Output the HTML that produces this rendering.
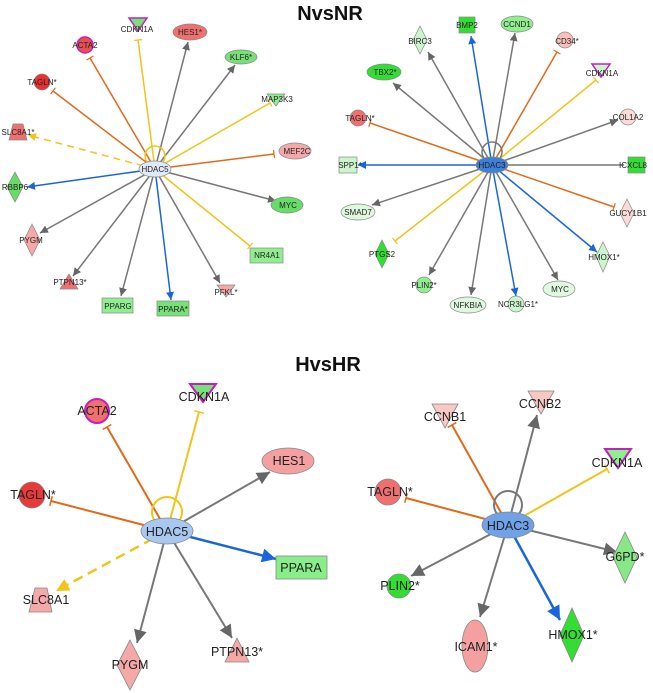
<!DOCTYPE html>
<html><head><meta charset="utf-8"><style>
html,body{margin:0;padding:0;background:#fff}
svg{display:block}
text{font-family:"Liberation Sans",sans-serif;fill:#222}
.s{font-size:8px}.b{font-size:12.5px}
.t{font-weight:bold;font-size:20px;fill:#111}
</style></head><body>
<svg width="653" height="693" viewBox="0 0 653 693" xmlns="http://www.w3.org/2000/svg">
<defs>
<marker id="ag" viewBox="0 0 10 10" refX="10" refY="5" markerWidth="8" markerHeight="8" markerUnits="userSpaceOnUse" orient="auto"><path d="M0,0L10,5L0,10z" fill="#666"/></marker>
<marker id="ab" viewBox="0 0 10 10" refX="10" refY="5" markerWidth="8" markerHeight="8" markerUnits="userSpaceOnUse" orient="auto"><path d="M0,0L10,5L0,10z" fill="#1a66d9"/></marker>
<marker id="ay" viewBox="0 0 10 10" refX="10" refY="5" markerWidth="8" markerHeight="8" markerUnits="userSpaceOnUse" orient="auto"><path d="M0,0L10,5L0,10z" fill="#f0c419"/></marker>
<marker id="ag2" viewBox="0 0 10 10" refX="10" refY="5" markerWidth="13" markerHeight="13" markerUnits="userSpaceOnUse" orient="auto"><path d="M0,0L10,5L0,10z" fill="#666"/></marker>
<marker id="ab2" viewBox="0 0 10 10" refX="10" refY="5" markerWidth="14" markerHeight="14" markerUnits="userSpaceOnUse" orient="auto"><path d="M0,0L10,5L0,10z" fill="#1a66d9"/></marker>
<marker id="ay2" viewBox="0 0 10 10" refX="10" refY="5" markerWidth="13" markerHeight="13" markerUnits="userSpaceOnUse" orient="auto"><path d="M0,0L10,5L0,10z" fill="#f0c419"/></marker>
<marker id="to" viewBox="0 0 4 10" refX="2" refY="5" markerWidth="4" markerHeight="8" markerUnits="userSpaceOnUse" orient="auto"><path d="M2,0V10" stroke="#e06a1a" stroke-width="1.5"/></marker>
<marker id="ty" viewBox="0 0 4 10" refX="2" refY="5" markerWidth="4" markerHeight="8" markerUnits="userSpaceOnUse" orient="auto"><path d="M2,0V10" stroke="#f0c419" stroke-width="1.5"/></marker>
<marker id="to2" viewBox="0 0 4 10" refX="2" refY="5" markerWidth="4" markerHeight="10" markerUnits="userSpaceOnUse" orient="auto"><path d="M2,0V10" stroke="#e06a1a" stroke-width="1.5"/></marker>
<marker id="ty2" viewBox="0 0 4 10" refX="2" refY="5" markerWidth="4" markerHeight="10" markerUnits="userSpaceOnUse" orient="auto"><path d="M2,0V10" stroke="#f0c419" stroke-width="1.5"/></marker>
</defs>

<text class="t" x="330" y="20" text-anchor="middle">NvsNR</text>
<text class="t" x="328" y="371" text-anchor="middle">HvsHR</text>

<!-- ===== Top-left HDAC5 ===== -->
<g stroke-width="1.5" fill="none">
<line x1="155" y1="169" x2="138" y2="40" stroke="#f0c419" marker-end="url(#ty)"/>
<line x1="155" y1="169" x2="90" y2="58" stroke="#e06a1a" marker-end="url(#to)"/>
<line x1="155" y1="169" x2="188" y2="42" stroke="#777" marker-end="url(#ag)"/>
<line x1="155" y1="169" x2="235" y2="65" stroke="#777" marker-end="url(#ag)"/>
<line x1="155" y1="169" x2="53" y2="91" stroke="#e06a1a" marker-end="url(#to)"/>
<line x1="155" y1="169" x2="270" y2="103" stroke="#f0c419" marker-end="url(#ty)"/>
<line x1="155" y1="169" x2="28" y2="135" stroke="#f0c419" stroke-dasharray="7,5" marker-end="url(#ay)"/>
<line x1="155" y1="169" x2="274" y2="154" stroke="#e06a1a" marker-end="url(#to)"/>
<line x1="155" y1="169" x2="27" y2="187" stroke="#1a66d9" marker-end="url(#ab)"/>
<line x1="155" y1="169" x2="276" y2="201" stroke="#777" marker-end="url(#ag)"/>
<line x1="155" y1="169" x2="40" y2="233" stroke="#777" marker-end="url(#ag)"/>
<line x1="155" y1="169" x2="250" y2="246" stroke="#f0c419" marker-end="url(#ty)"/>
<line x1="155" y1="169" x2="73" y2="276" stroke="#777" marker-end="url(#ag)"/>
<line x1="155" y1="169" x2="220" y2="283" stroke="#777" marker-end="url(#ag)"/>
<line x1="155" y1="169" x2="121" y2="296" stroke="#777" marker-end="url(#ag)"/>
<line x1="155" y1="169" x2="171" y2="300" stroke="#1a66d9" marker-end="url(#ab)"/>
<circle cx="155" cy="156" r="10" stroke="#f0c419"/>
</g>
<g stroke="#888" stroke-width="0.7">
<polygon points="129,18 147,18 138,31" fill="#77e077" stroke="#c020c0" stroke-width="1.5"/>
<circle cx="85" cy="45" r="8" fill="#e85050" stroke="#c020c0" stroke-width="1.5"/>
<ellipse cx="190" cy="32" rx="17" ry="8" fill="#f07070"/>
<ellipse cx="241" cy="57" rx="16" ry="7" fill="#77e077"/>
<circle cx="42" cy="82" r="8" fill="#e83030"/>
<polygon points="267,94 285,94 276,106" fill="#90ee90"/>
<polygon points="13,124 23,124 27,140 9,140" fill="#f07070"/>
<ellipse cx="295" cy="151" rx="16" ry="8" fill="#f4a8a8"/>
<polygon points="15,172 23,187 15,202 7,187" fill="#66dd66"/>
<ellipse cx="287" cy="205" rx="16" ry="8" fill="#66dd66"/>
<polygon points="32,224 40,240 32,256 24,240" fill="#f4a8a8"/>
<rect x="250" y="248" width="33" height="15" fill="#90ee90"/>
<polygon points="69,274 78,289 60,289" fill="#f07070"/>
<polygon points="217,285 235,285 226,297" fill="#f4a8a8"/>
<rect x="102" y="298" width="31" height="15" fill="#90ee90"/>
<rect x="157" y="301" width="32" height="15" fill="#77e077"/>
<ellipse cx="155" cy="169" rx="16" ry="8" fill="#dfe9f7"/>
</g>
<g class="s" text-anchor="middle">
<text x="137" y="32">CDKN1A</text><text x="85" y="48">ACTA2</text>
<text x="190" y="35">HES1*</text><text x="241" y="60">KLF6*</text>
<text x="42" y="85">TAGLN*</text><text x="277" y="102">MAP3K3</text>
<text x="18" y="135">SLC8A1*</text><text x="297" y="154">MEF2C</text>
<text x="15" y="190">RBBP6</text><text x="288" y="208">MYC</text>
<text x="31" y="243">PYGM</text><text x="267" y="258">NR4A1</text>
<text x="70" y="285">PTPN13*</text><text x="226" y="295">PFKL*</text>
<text x="118" y="309">PPARG</text><text x="173" y="312">PPARA*</text>
<text x="155" y="172">HDAC5</text>
</g>

<!-- ===== Top-right HDAC3 ===== -->
<g stroke-width="1.5" fill="none">
<line x1="492" y1="165" x2="471" y2="36" stroke="#1a66d9" marker-end="url(#ab)"/>
<line x1="492" y1="165" x2="515" y2="33" stroke="#777" marker-end="url(#ag)"/>
<line x1="492" y1="165" x2="428" y2="52" stroke="#777" marker-end="url(#ag)"/>
<line x1="492" y1="165" x2="557" y2="52" stroke="#e06a1a" marker-end="url(#to)"/>
<line x1="492" y1="165" x2="393" y2="83" stroke="#777" marker-end="url(#ag)"/>
<line x1="492" y1="165" x2="596" y2="80" stroke="#f0c419" marker-end="url(#ty)"/>
<line x1="492" y1="165" x2="370" y2="123" stroke="#e06a1a" marker-end="url(#to)"/>
<line x1="492" y1="165" x2="618" y2="120" stroke="#777" marker-end="url(#ag)"/>
<line x1="492" y1="165" x2="358" y2="165" stroke="#1a66d9" marker-end="url(#ab)"/>
<line x1="492" y1="165" x2="624" y2="165" stroke="#777"/>
<line x1="492" y1="165" x2="372" y2="205" stroke="#777" marker-end="url(#ag)"/>
<line x1="492" y1="165" x2="614" y2="207" stroke="#e06a1a" marker-end="url(#to)"/>
<line x1="492" y1="165" x2="395" y2="241" stroke="#f0c419" marker-end="url(#ty)"/>
<line x1="492" y1="165" x2="597" y2="252" stroke="#1a66d9" marker-end="url(#ab)"/>
<line x1="492" y1="165" x2="429" y2="275" stroke="#777" marker-end="url(#ag)"/>
<line x1="492" y1="165" x2="558" y2="280" stroke="#777" marker-end="url(#ag)"/>
<line x1="492" y1="165" x2="471" y2="295" stroke="#777" marker-end="url(#ag)"/>
<line x1="492" y1="165" x2="516" y2="296" stroke="#1a66d9" marker-end="url(#ab)"/>
<circle cx="492" cy="152" r="10" stroke="#777"/>
</g>
<g stroke="#888" stroke-width="0.7">
<rect x="459" y="17" width="16" height="16" fill="#33dd33"/>
<ellipse cx="517" cy="24" rx="16" ry="8" fill="#90ee90"/>
<polygon points="420,26 427,40 420,54 413,40" fill="#cdf5cd"/>
<circle cx="565" cy="40" r="8" fill="#f7c0bc"/>
<ellipse cx="384" cy="72" rx="17" ry="8" fill="#33dd33"/>
<polygon points="592,64 610,64 601,77" fill="#cdf5cd" stroke="#c020c0" stroke-width="1.5"/>
<circle cx="358" cy="118" r="8" fill="#f07070"/>
<circle cx="628" cy="117" r="8" fill="#f9dcd8"/>
<rect x="339" y="157" width="18" height="16" fill="#cdf5cd"/>
<rect x="628" y="157" width="17" height="16" fill="#33dd33"/>
<ellipse cx="358" cy="212" rx="17" ry="8" fill="#e0f8e0"/>
<polygon points="627,199 634,213 627,227 620,213" fill="#f9dcd8"/>
<polygon points="382,240 389,254 382,268 375,254" fill="#33dd33"/>
<polygon points="603,242 610,256 603,272 596,256" fill="#cdf5cd"/>
<circle cx="424" cy="285" r="8" fill="#90ee90"/>
<ellipse cx="559" cy="289" rx="16" ry="8" fill="#e0f8e0"/>
<ellipse cx="468" cy="305" rx="18" ry="8" fill="#e0f8e0"/>
<ellipse cx="516" cy="304" rx="8" ry="8" fill="#cdf5cd"/>
<ellipse cx="492" cy="165" rx="16" ry="8" fill="#3d80d8"/>
</g>
<g class="s" text-anchor="middle">
<text x="467" y="28">BMP2</text><text x="517" y="27">CCND1</text>
<text x="420" y="44">BIRC3</text><text x="567" y="44">CD34*</text>
<text x="385" y="75">TBX2*</text><text x="602" y="76">CDKN1A</text>
<text x="360" y="121">TAGLN*</text><text x="628" y="120">COL1A2</text>
<text x="350" y="168">SPP1*</text><text x="633" y="168">ICXCL8</text>
<text x="358" y="215">SMAD7</text><text x="628" y="216">GUCY1B1</text>
<text x="382" y="257">PTGS2</text><text x="604" y="260">HMOX1*</text>
<text x="424" y="288">PLIN2*</text><text x="560" y="292">MYC</text>
<text x="468" y="308">NFKBIA</text><text x="518" y="307">NCR3LG1*</text>
<text x="492" y="168">HDAC3</text>
</g>

<!-- ===== Bottom-left HDAC5 ===== -->
<g stroke-width="2" fill="none">
<line x1="167" y1="531" x2="107" y2="427" stroke="#e06a1a" marker-end="url(#to2)"/>
<line x1="167" y1="531" x2="199" y2="412" stroke="#f0c419" marker-end="url(#ty2)"/>
<line x1="167" y1="531" x2="270" y2="472" stroke="#777" marker-end="url(#ag2)"/>
<line x1="167" y1="531" x2="51" y2="501" stroke="#e06a1a" marker-end="url(#to2)"/>
<line x1="167" y1="531" x2="276" y2="559" stroke="#1a66d9" stroke-width="2.5" marker-end="url(#ab2)"/>
<line x1="167" y1="531" x2="56" y2="591" stroke="#f0c419" stroke-width="2.5" stroke-dasharray="10,6" marker-end="url(#ay2)"/>
<line x1="167" y1="531" x2="137" y2="643" stroke="#777" marker-end="url(#ag2)"/>
<line x1="167" y1="531" x2="232" y2="638" stroke="#777" marker-end="url(#ag2)"/>
<circle cx="167" cy="512" r="15" stroke="#f0c419"/>
</g>
<g stroke="#888" stroke-width="0.8">
<circle cx="97" cy="411" r="12" fill="#f07070" stroke="#c020c0" stroke-width="2"/>
<polygon points="190,384 216,384 203,402" fill="#77e077" stroke="#c020c0" stroke-width="2"/>
<ellipse cx="288" cy="461" rx="26" ry="13" fill="#f4a0a0"/>
<circle cx="32" cy="495" r="13" fill="#e83a3a"/>
<rect x="276" y="556" width="51" height="23" fill="#88ee88"/>
<polygon points="35,588 47,588 52,612 29,612" fill="#f4a8a8"/>
<polygon points="130,640 143,665 130,690 117,665" fill="#f4a8a8"/>
<polygon points="237,638 249,662 225,662" fill="#f4a8a8"/>
<ellipse cx="167" cy="531" rx="26" ry="13" fill="#a8c8ef"/>
</g>
<g class="b" text-anchor="middle">
<text x="97" y="415">ACTA2</text><text x="204" y="401">CDKN1A</text>
<text x="289" y="465">HES1</text><text x="33" y="499">TAGLN*</text>
<text x="301" y="572">PPARA</text><text x="46" y="604">SLC8A1</text>
<text x="130" y="669">PYGM</text><text x="237" y="656">PTPN13*</text>
<text x="167" y="536">HDAC5</text>
</g>

<!-- ===== Bottom-right HDAC3 ===== -->
<g stroke-width="2" fill="none">
<line x1="508" y1="525" x2="452" y2="425" stroke="#e06a1a" marker-end="url(#to2)"/>
<line x1="508" y1="525" x2="537" y2="415" stroke="#777" marker-end="url(#ag2)"/>
<line x1="508" y1="525" x2="607" y2="469" stroke="#f0c419" marker-end="url(#ty2)"/>
<line x1="508" y1="525" x2="406" y2="498" stroke="#e06a1a" marker-end="url(#to2)"/>
<line x1="508" y1="525" x2="617" y2="552" stroke="#777" marker-end="url(#ag2)"/>
<line x1="508" y1="525" x2="411" y2="576" stroke="#777" marker-end="url(#ag2)"/>
<line x1="508" y1="525" x2="480" y2="617" stroke="#777" marker-end="url(#ag2)"/>
<line x1="508" y1="525" x2="560" y2="620" stroke="#1a66d9" stroke-width="2.5" marker-end="url(#ab2)"/>
<circle cx="508" cy="505" r="14" stroke="#777"/>
</g>
<g stroke="#888" stroke-width="0.8">
<polygon points="432,404 458,404 445,428" fill="#f7c8c4"/>
<polygon points="528,391 554,391 541,414" fill="#f7c8c4"/>
<polygon points="605,449 631,449 618,468" fill="#90ee90" stroke="#c020c0" stroke-width="2"/>
<circle cx="388" cy="492" r="13" fill="#f07070"/>
<polygon points="625,532 637,557 625,583 613,557" fill="#88e888"/>
<circle cx="399" cy="586" r="12" fill="#33dd33"/>
<ellipse cx="475" cy="646" rx="13" ry="26" fill="#f4a0a0"/>
<polygon points="572,608 584,635 572,662 560,635" fill="#33dd33"/>
<ellipse cx="508" cy="525" rx="26" ry="13" fill="#6fa2e6"/>
</g>
<g class="b" text-anchor="middle">
<text x="445" y="421">CCNB1</text><text x="540" y="408">CCNB2</text>
<text x="617" y="467">CDKN1A</text><text x="390" y="496">TAGLN*</text>
<text x="625" y="561">G6PD*</text><text x="400" y="590">PLIN2*</text>
<text x="476" y="651">ICAM1*</text><text x="573" y="639">HMOX1*</text>
<text x="508" y="530">HDAC3</text>
</g>
</svg>
</body></html>
